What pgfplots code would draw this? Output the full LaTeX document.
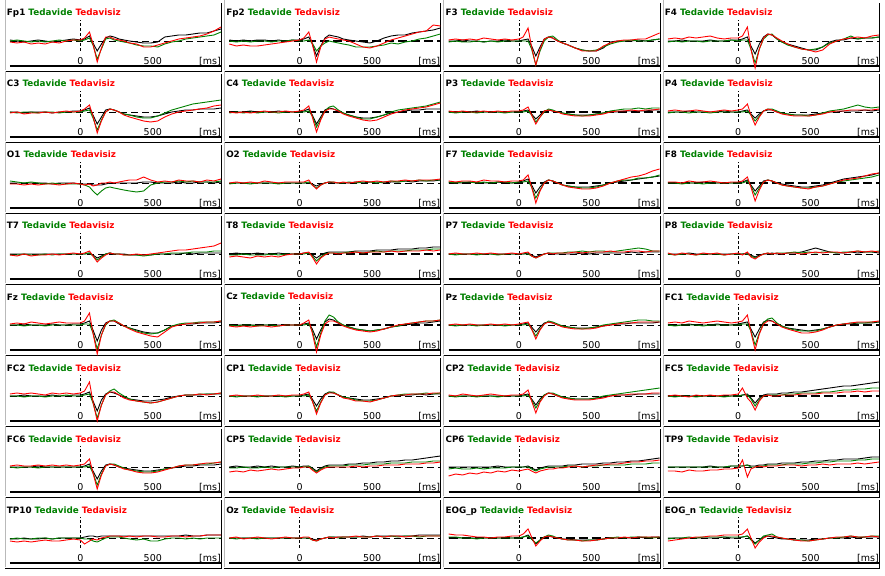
\documentclass[border=0pt]{standalone}
\usepackage{fontspec}
\setmainfont{DejaVu Sans}
\usepackage{pgfplots}
\usepackage{pgfplotstable}
\pgfplotsset{compat=1.18}

\definecolor{tgreen}{RGB}{0,128,0}
\definecolor{tred}{RGB}{255,0,0}

% ---- data: t = time [ms], k = black, g = Tedavide, r = Tedavisiz (px above baseline)
\pgfplotstableread{
t k g r
-500 1 0 -1
-450 0 1 -2
-400 -1 0 -1
-350 0 -1 -3
-300 1 0 -2
-250 0 -1 -3
-200 -1 0 -1
-150 0 1 -2
-100 1 0 0
-50 2 1 1
0 1 0 1
30 2 1 3
65 5 3 9
90 -2 -4 -3
120 -10 -18 -21
150 -3 -8 -7
180 3 2 4
210 5 3 4
240 4 1 2
275 2 0 1
310 1 -1 0
350 0 -2 -2
400 -1 -4 -3
450 -2 -5 -6
500 -2 -5 -6
550 -1 -6 -4
600 4 -3 -2
650 5 -1 0
700 6 0 2
750 6 2 3
800 7 3 4
850 8 4 5
900 8 5 7
950 10 6 10
1000 12 9 14
}\dFpone
\pgfplotstableread{
t k g r
-500 1 0 -3
-450 0 -1 -5
-400 1 0 -4
-350 0 -1 -5
-300 1 0 -5
-250 1 0 -4
-200 0 -1 -3
-150 1 0 -2
-100 0 0 -1
-50 1 1 0
0 1 0 1
30 2 0 3
65 4 1 9
90 -3 -2 -3
120 -15 -10 -21
150 -5 -5 -6
180 3 -2 2
210 6 0 4
240 5 -1 3
275 4 -2 2
310 2 -3 1
350 1 -4 0
400 0 -6 -3
450 -1 -6 -6
500 -2 -6 -7
550 0 -5 -5
600 3 -4 -2
650 5 -2 1
700 6 -3 3
750 6 -1 5
800 8 0 7
850 9 2 9
900 10 3 10
950 11 5 16
1000 13 7 15
}\dFptwo
\pgfplotstableread{
t k g r
-500 0 -1 1
-450 0 0 2
-400 1 -1 1
-350 0 -1 2
-300 0 0 1
-250 -1 -1 3
-200 0 0 2
-150 0 -1 1
-100 1 0 2
-50 0 0 1
0 0 0 2
30 1 0 4
65 2 0 13
90 -5 -8 -6
120 -15 -24 -24
150 -6 -10 -8
180 2 0 2
210 4 4 4
240 3 5 3
275 0 1 0
310 -2 -2 -2
350 -4 -4 -4
400 -7 -7 -7
450 -9 -9 -10
500 -10 -10 -10
550 -10 -9 -10
600 -7 -6 -5
650 -1 -3 -2
700 0 -1 0
750 0 0 1
800 0 1 1
850 1 0 2
900 0 0 2
950 1 1 5
1000 2 2 8
}\dFthree
\pgfplotstableread{
t k g r
-500 0 -1 2
-450 0 0 3
-400 1 -1 2
-350 0 0 4
-300 0 0 3
-250 0 -1 4
-200 1 0 5
-150 0 0 3
-100 0 0 2
-50 1 1 3
0 1 0 3
30 2 1 5
65 4 1 14
90 -5 -8 -8
120 -13 -22 -27
150 -3 -8 -8
180 4 2 3
210 7 6 7
240 6 7 6
275 2 2 3
310 -1 -1 0
350 -3 -4 -3
400 -5 -6 -6
450 -7 -8 -8
500 -9 -9 -9
550 -9 -8 -11
600 -6 -6 -9
650 -1 -2 -3
700 1 0 0
750 1 2 2
800 3 5 3
850 2 2 4
900 3 3 3
950 3 3 5
1000 4 4 6
}\dFfour
\pgfplotstableread{
t k g r
-500 0 0 -1
-450 0 -1 0
-400 -1 0 -2
-350 0 0 -1
-300 0 -1 -1
-250 0 0 0
-200 -1 0 -1
-150 0 -1 0
-100 0 0 1
-50 1 0 0
0 1 0 1
30 2 1 3
65 4 2 7
90 -3 -6 -4
120 -12 -18 -21
150 -5 -8 -9
180 2 0 0
210 3 3 3
240 2 2 2
275 0 0 0
310 -2 -2 -3
350 -3 -3 -5
400 -4 -5 -7
450 -5 -6 -9
500 -5 -6 -10
550 -4 -4 -9
600 -2 -1 -5
650 0 2 -2
700 1 4 0
750 2 6 1
800 2 8 2
850 3 9 3
900 3 10 4
950 3 11 6
1000 4 12 7
}\dCthree
\pgfplotstableread{
t k g r
-500 0 -1 0
-450 0 0 -1
-400 0 -1 0
-350 1 0 -1
-300 0 -1 0
-250 0 0 1
-200 0 0 0
-150 1 -1 0
-100 0 0 1
-50 0 0 0
0 0 0 1
30 1 0 2
65 3 1 6
90 -3 -4 -5
120 -12 -15 -20
150 -5 -7 -8
180 2 1 1
210 4 5 3
240 3 6 3
275 1 2 1
310 -1 -1 -2
350 -3 -3 -4
400 -5 -5 -6
450 -6 -7 -8
500 -6 -7 -9
550 -5 -5 -8
600 -3 -3 -5
650 -1 0 -2
700 0 2 0
750 1 3 2
800 2 4 3
850 2 5 4
900 3 6 5
950 3 8 7
1000 3 10 9
}\dCfour
\pgfplotstableread{
t k g r
-500 0 0 1
-450 0 -1 0
-400 0 0 1
-350 0 0 0
-300 1 -1 0
-250 0 0 1
-200 0 0 0
-150 0 0 1
-100 0 -1 0
-50 0 0 1
0 0 0 1
30 1 0 2
65 2 1 5
90 -2 -3 -3
120 -7 -10 -12
150 -3 -5 -5
180 1 0 1
210 2 3 2
240 1 2 1
275 0 0 0
310 -1 -1 -2
350 -2 -2 -3
400 -3 -3 -4
450 -3 -4 -4
500 -3 -3 -4
550 -2 -2 -3
600 -1 -1 -2
650 0 1 0
700 0 2 1
750 1 3 1
800 1 3 2
850 1 4 1
900 1 3 2
950 2 4 2
1000 2 4 3
}\dPthree
\pgfplotstableread{
t k g r
-500 0 -1 1
-450 0 0 2
-400 0 0 1
-350 1 -1 1
-300 0 0 2
-250 0 0 1
-200 0 -1 0
-150 0 0 1
-100 1 0 2
-50 0 0 1
0 0 0 2
30 1 0 3
65 2 1 8
90 -2 -3 -3
120 -6 -9 -13
150 -2 -4 -5
180 1 1 1
210 2 3 3
240 2 3 2
275 0 1 0
310 -1 -1 -2
350 -2 -2 -3
400 -3 -3 -4
450 -3 -3 -4
500 -3 -4 -4
550 -2 -3 -3
600 -1 -1 -2
650 0 1 0
700 0 2 1
750 1 3 1
800 1 5 2
850 1 7 2
900 2 5 2
950 1 4 2
1000 2 5 3
}\dPfour
\pgfplotstableread{
t k g r
-500 0 2 -1
-450 0 1 -1
-400 0 0 -2
-350 0 1 -1
-300 0 0 -2
-250 0 -1 -1
-200 -1 0 -1
-150 0 -1 -2
-100 0 -1 -1
-50 0 -1 0
0 -1 -1 -1
30 -1 -2 -2
65 -1 -4 -1
90 -2 -8 -3
120 -2 -12 -2
150 -2 -8 0
180 -1 -5 0
210 0 -4 1
240 0 -5 0
275 0 -6 1
310 0 -7 2
350 0 -8 3
400 0 -9 3
450 1 -8 6
500 1 -2 3
550 0 0 1
600 0 1 2
650 0 1 1
700 1 2 3
750 0 1 2
800 0 2 2
850 1 1 1
900 1 1 3
950 0 1 2
1000 1 2 4
}\dOone
\pgfplotstableread{
t k g r
-500 0 -1 0
-450 0 0 1
-400 0 0 0
-350 0 -1 1
-300 0 0 0
-250 0 0 2
-200 0 0 1
-150 0 -1 0
-100 0 0 1
-50 0 0 1
0 0 0 1
30 0 0 1
65 0 1 3
90 -1 -2 -2
120 -3 -5 -6
150 -1 -2 -2
180 0 0 0
210 1 1 1
240 0 1 1
275 0 0 0
310 0 0 1
350 0 1 0
400 1 0 1
450 0 1 2
500 1 1 1
550 1 0 2
600 0 1 1
650 1 2 2
700 1 1 2
750 2 2 3
800 1 2 2
850 2 3 3
900 2 2 3
950 2 3 3
1000 3 3 4
}\dOtwo
\pgfplotstableread{
t k g r
-500 0 1 2
-450 0 0 1
-400 0 1 2
-350 1 1 2
-300 0 0 1
-250 0 1 3
-200 0 0 2
-150 1 1 2
-100 0 1 1
-50 0 0 2
0 1 1 2
30 2 1 3
65 4 2 8
90 -2 -4 -4
120 -10 -15 -20
150 -4 -7 -8
180 1 0 0
210 3 3 3
240 2 2 2
275 0 0 0
310 -2 -2 -2
350 -3 -3 -4
400 -4 -4 -5
450 -4 -5 -6
500 -4 -5 -6
550 -3 -4 -5
600 -2 -2 -3
650 0 0 0
700 1 2 2
750 2 3 4
800 3 3 6
850 4 5 7
900 5 5 9
950 6 6 12
1000 7 8 14
}\dFseven
\pgfplotstableread{
t k g r
-500 0 0 1
-450 0 0 1
-400 0 -1 0
-350 0 0 2
-300 0 0 1
-250 1 -1 1
-200 0 0 2
-150 0 0 1
-100 0 0 0
-50 0 0 1
0 0 0 1
30 1 0 2
65 3 2 6
90 -2 -3 -4
120 -8 -12 -18
150 -3 -5 -7
180 2 1 1
210 3 3 3
240 2 2 2
275 0 0 0
310 -1 -2 -2
350 -2 -3 -3
400 -3 -4 -4
450 -4 -5 -5
500 -4 -5 -6
550 -3 -4 -4
600 -2 -3 -3
650 0 -1 -1
700 2 1 1
750 4 2 3
800 5 3 4
850 6 4 5
900 7 5 7
950 8 6 9
1000 10 8 10
}\dFeight
\pgfplotstableread{
t k g r
-500 0 -1 -1
-450 0 -1 -2
-400 0 0 0
-350 0 -1 -2
-300 0 -1 -1
-250 0 0 -1
-200 0 -1 0
-150 0 0 -1
-100 0 0 0
-50 0 0 1
0 0 0 0
30 0 0 1
65 1 1 3
90 -1 -2 -2
120 -4 -6 -8
150 -2 -3 -4
180 0 0 -1
210 1 1 1
240 0 0 0
275 0 0 0
310 0 -1 -1
350 -1 -1 -1
400 -1 -1 0
450 -1 -2 -1
500 -1 -1 0
550 0 0 1
600 0 0 2
650 0 1 3
700 0 1 4
750 1 1 4
800 0 2 5
850 1 2 6
900 1 2 7
950 1 3 8
1000 1 3 11
}\dTseven
\pgfplotstableread{
t k g r
-500 0 -1 -3
-450 1 -1 -2
-400 0 0 -3
-350 0 -1 -4
-300 1 -1 -2
-250 0 -1 -3
-200 0 0 -2
-150 1 -1 -3
-100 0 0 -1
-50 0 0 0
0 0 0 0
30 1 0 1
65 1 1 2
90 -1 -2 -3
120 -4 -7 -10
150 -1 -3 -4
180 1 0 -1
210 2 1 1
240 2 1 1
275 2 1 0
310 2 1 1
350 2 2 1
400 3 2 2
450 3 1 1
500 3 2 2
550 4 3 2
600 4 2 2
650 4 3 3
700 5 3 2
750 5 3 3
800 5 4 3
850 6 4 3
900 6 4 4
950 7 5 3
1000 7 5 4
}\dTeight
\pgfplotstableread{
t k g r
-500 0 0 0
-450 0 -1 1
-400 0 0 0
-350 0 0 0
-300 0 -1 1
-250 0 0 0
-200 0 0 1
-150 0 -1 0
-100 0 0 0
-50 0 0 1
0 0 0 0
30 0 0 1
65 1 0 2
90 -1 -2 -2
120 -3 -4 -4
150 -1 -2 -2
180 0 0 0
210 1 1 1
240 0 1 0
275 0 1 1
310 0 1 1
350 0 2 1
400 0 2 2
450 1 3 1
500 0 2 2
550 1 3 2
600 1 3 2
650 1 2 3
700 1 3 2
750 1 4 2
800 2 5 3
850 1 6 3
900 2 5 2
950 2 3 3
1000 2 3 3
}\dPseven
\pgfplotstableread{
t k g r
-500 0 0 1
-450 0 -1 -1
-400 0 0 1
-350 1 0 0
-300 0 -1 -1
-250 0 0 1
-200 0 0 0
-150 0 0 1
-100 0 -1 -1
-50 0 0 0
0 0 0 1
30 0 0 -1
65 1 0 2
90 -1 -2 -3
120 -3 -4 -5
150 -1 -2 -2
180 0 0 0
210 0 1 1
240 1 0 0
275 0 1 1
310 0 1 0
350 1 1 1
400 1 2 1
450 2 1 0
500 4 2 1
550 6 1 2
600 4 2 1
650 2 2 2
700 1 1 2
750 1 2 1
800 2 2 2
850 1 3 3
900 2 2 2
950 2 2 3
1000 1 3 2
}\dPeight
\pgfplotstableread{
t k g r
-500 0 0 1
-450 0 0 2
-400 1 -1 1
-350 0 0 3
-300 0 0 2
-250 0 -1 1
-200 1 0 2
-150 0 0 3
-100 0 0 2
-50 1 0 2
0 1 0 2
30 2 1 4
65 4 1 12
90 -5 -8 -8
120 -16 -24 -29
150 -5 -10 -10
180 2 0 1
210 4 4 4
240 4 5 4
275 1 2 2
310 -1 -1 -1
350 -3 -3 -4
400 -5 -6 -7
450 -7 -8 -9
500 -8 -9 -11
550 -8 -8 -12
600 -5 -5 -7
650 -1 -1 -2
700 0 1 0
750 1 2 1
800 1 2 2
850 2 3 2
900 2 3 3
950 2 3 3
1000 3 4 4
}\dFz
\pgfplotstableread{
t k g r
-500 0 0 -1
-450 0 -1 -2
-400 0 0 -1
-350 0 0 -2
-300 0 -1 -1
-250 0 0 -1
-200 0 0 -2
-150 0 -1 -1
-100 0 0 0
-50 0 0 0
0 0 0 0
30 1 0 2
65 2 1 5
90 -4 -6 -8
120 -14 -22 -27
150 -5 -8 -10
180 3 4 1
210 6 10 4
240 5 8 4
275 2 3 2
310 0 0 -1
350 -2 -2 -3
400 -4 -4 -5
450 -5 -5 -6
500 -6 -6 -7
550 -5 -5 -6
600 -4 -4 -4
650 -2 -2 -2
700 -1 -1 0
750 0 1 1
800 1 2 2
850 2 3 3
900 2 4 4
950 3 4 4
1000 4 5 5
}\dCz
\pgfplotstableread{
t k g r
-500 0 0 0
-450 0 -1 1
-400 0 0 0
-350 0 0 1
-300 0 -1 0
-250 0 0 0
-200 0 0 1
-150 0 0 0
-100 0 -1 1
-50 0 0 0
0 0 0 1
30 1 0 2
65 2 1 3
90 -2 -4 -4
120 -7 -11 -14
150 -2 -4 -5
180 2 1 1
210 3 4 3
240 2 3 2
275 0 1 0
310 -1 -1 -2
350 -2 -2 -3
400 -3 -3 -4
450 -3 -4 -4
500 -3 -3 -4
550 -2 -2 -3
600 -1 0 -1
650 0 1 0
700 1 2 1
750 1 3 2
800 2 4 2
850 2 5 3
900 2 5 3
950 2 4 3
1000 3 4 3
}\dPz
\pgfplotstableread{
t k g r
-500 0 0 2
-450 0 -1 3
-400 0 0 2
-350 1 0 4
-300 0 0 3
-250 0 -1 2
-200 0 0 3
-150 1 0 4
-100 0 0 3
-50 0 0 2
0 1 0 3
30 2 1 4
65 3 1 10
90 -4 -6 -7
120 -12 -20 -25
150 -4 -8 -9
180 3 2 1
210 5 6 4
240 4 7 4
275 1 2 1
310 -1 -1 -2
350 -3 -3 -4
400 -4 -5 -6
450 -5 -6 -8
500 -6 -6 -8
550 -5 -6 -7
600 -4 -4 -5
650 -2 -2 -2
700 0 0 0
750 1 1 1
800 1 2 2
850 2 2 3
900 2 2 3
950 2 3 3
1000 3 3 4
}\dFCone
\pgfplotstableread{
t k g r
-500 0 0 2
-450 0 0 3
-400 1 -1 2
-350 0 0 3
-300 0 0 2
-250 0 -1 1
-200 1 0 3
-150 0 0 2
-100 0 1 3
-50 1 0 2
0 1 0 3
30 2 1 5
65 4 2 14
90 -5 -7 -6
120 -15 -22 -25
150 -4 -9 -9
180 2 1 1
210 4 5 4
240 3 7 4
275 1 3 1
310 -1 0 -2
350 -3 -3 -4
400 -4 -5 -5
450 -5 -6 -6
500 -5 -7 -7
550 -4 -6 -6
600 -3 -4 -4
650 -1 -2 -2
700 0 0 0
750 1 1 1
800 1 1 1
850 1 2 2
900 2 2 1
950 2 2 2
1000 2 3 3
}\dFCtwo
\pgfplotstableread{
t k g r
-500 0 0 0
-450 0 -1 1
-400 0 0 0
-350 0 0 0
-300 0 -1 1
-250 0 0 0
-200 0 0 0
-150 0 0 1
-100 0 -1 0
-50 0 0 1
0 0 0 1
30 1 0 2
65 2 1 4
90 -3 -5 -5
120 -10 -15 -18
150 -3 -6 -7
180 2 1 1
210 4 4 3
240 3 4 3
275 1 1 1
310 -1 -1 -2
350 -2 -2 -3
400 -3 -4 -5
450 -4 -5 -5
500 -4 -5 -6
550 -3 -4 -4
600 -2 -2 -2
650 0 0 0
700 0 1 1
750 1 2 1
800 1 2 2
850 2 2 2
900 1 3 2
950 2 2 3
1000 2 3 3
}\dCPone
\pgfplotstableread{
t k g r
-500 0 0 1
-450 0 -1 0
-400 0 0 2
-350 0 0 1
-300 0 -1 0
-250 0 0 1
-200 0 0 2
-150 0 -1 1
-100 0 0 0
-50 0 0 1
0 0 0 1
30 1 0 2
65 2 1 6
90 -3 -4 -5
120 -9 -12 -17
150 -3 -5 -6
180 1 1 0
210 3 3 3
240 2 3 2
275 0 1 0
310 -1 -1 -2
350 -2 -2 -3
400 -3 -3 -4
450 -3 -3 -4
500 -3 -3 -4
550 -2 -2 -3
600 -1 0 -2
650 0 1 0
700 1 2 1
750 1 3 1
800 1 4 2
850 2 5 2
900 2 6 2
950 2 7 3
1000 2 8 3
}\dCPtwo
\pgfplotstableread{
t k g r
-500 0 0 0
-450 0 -1 1
-400 0 0 0
-350 0 0 -1
-300 0 -1 1
-250 0 0 0
-200 0 0 1
-150 0 0 0
-100 0 -1 1
-50 0 0 1
0 0 0 2
30 1 1 8
65 2 1 -2
90 -2 -3 -6
120 -7 -10 -14
150 -2 -4 -5
180 1 0 0
210 2 1 1
240 2 1 0
275 2 1 0
310 3 1 1
350 3 2 1
400 4 2 1
450 4 3 2
500 5 3 2
550 6 3 2
600 7 4 3
650 8 4 3
700 9 5 3
750 10 6 4
800 10 6 4
850 11 7 5
900 12 7 4
950 13 8 5
1000 14 8 5
}\dFCfive
\pgfplotstableread{
t k g r
-500 0 0 1
-450 0 -1 2
-400 0 0 1
-350 0 0 1
-300 1 -1 2
-250 0 0 1
-200 0 0 2
-150 0 0 1
-100 0 0 2
-50 0 0 1
0 0 0 2
30 1 0 3
65 3 1 8
90 -4 -6 -6
120 -12 -18 -22
150 -4 -7 -8
180 2 1 1
210 3 3 3
240 2 3 2
275 0 1 0
310 -1 -1 -2
350 -2 -3 -3
400 -3 -4 -5
450 -4 -5 -6
500 -4 -5 -6
550 -3 -4 -5
600 -2 -2 -3
650 -1 -1 -1
700 0 1 1
750 1 2 2
800 1 2 2
850 2 3 3
900 2 3 4
950 2 4 4
1000 3 5 5
}\dFCsix
\pgfplotstableread{
t k g r
-500 0 -1 -5
-450 1 -1 -4
-400 0 0 -5
-350 0 -1 -3
-300 1 -1 -4
-250 0 0 -3
-200 1 -1 -2
-150 0 0 -3
-100 0 0 -2
-50 1 0 -1
0 0 0 -1
30 1 0 0
65 1 1 0
90 -1 -2 -3
120 -4 -5 -6
150 -1 -2 -3
180 1 0 -1
210 2 1 0
240 2 1 0
275 2 1 0
310 2 1 0
350 3 2 0
400 3 2 1
450 4 2 0
500 4 3 1
550 5 3 1
600 5 3 2
650 6 4 2
700 6 4 2
750 7 4 3
800 7 5 3
850 8 5 3
900 9 5 4
950 10 6 4
1000 11 6 5
}\dCPfive
\pgfplotstableread{
t k g r
-500 0 -2 -9
-450 0 -1 -7
-400 0 -2 -8
-350 0 -2 -6
-300 0 -1 -7
-250 0 -2 -5
-200 0 -1 -6
-150 1 -1 -4
-100 0 -1 -5
-50 0 0 -3
0 0 0 -4
30 0 0 -3
65 1 0 -2
90 -1 -2 -4
120 -3 -4 -6
150 -1 -2 -4
180 0 -1 -3
210 1 0 -2
240 1 0 -2
275 1 0 -1
310 1 0 -1
350 2 1 0
400 2 1 1
450 3 0 0
500 3 1 1
550 3 1 2
600 4 2 2
650 4 2 3
700 5 2 3
750 5 2 4
800 6 3 5
850 6 3 5
900 7 3 6
950 8 4 6
1000 9 4 7
}\dCPsix
\pgfplotstableread{
t k g r
-500 0 0 -4
-450 0 0 -4
-400 0 0 -5
-350 0 0 -3
-300 0 0 -4
-250 0 0 -4
-200 1 0 -3
-150 0 0 -3
-100 0 0 -2
-50 1 1 -2
0 1 1 -1
30 1 1 7
65 2 2 -10
90 1 0 -2
120 1 0 0
150 2 1 1
180 2 1 0
210 3 2 1
240 3 2 1
275 3 2 1
310 4 2 2
350 4 3 2
400 4 3 2
450 5 3 1
500 5 4 2
550 6 4 2
600 6 5 3
650 7 5 2
700 7 6 3
750 8 6 3
800 8 6 3
850 8 7 4
900 9 7 3
950 10 8 4
1000 10 8 5
}\dTPnine
\pgfplotstableread{
t k g r
-500 -1 -1 -3
-450 -1 0 -4
-400 0 -1 -3
-350 -1 -1 -4
-300 -1 0 -3
-250 0 0 -2
-200 -1 -1 -3
-150 0 0 -3
-100 0 0 -2
-50 0 0 -1
0 0 0 -2
30 1 -1 -6
65 2 -1 -3
90 2 -3 -1
120 1 -4 -2
150 2 -2 0
180 2 0 1
210 2 1 2
240 2 1 2
275 2 1 2
310 2 0 1
350 2 -1 2
400 2 -2 1
450 2 -1 2
500 2 -3 2
550 2 -3 1
600 2 -1 1
650 2 0 2
700 2 0 2
750 3 -1 1
800 2 0 2
850 2 -1 2
900 3 0 3
950 3 0 3
1000 3 0 3
}\dTPten
\pgfplotstableread{
t k g r
-500 0 0 0
-450 0 -1 1
-400 0 0 -1
-350 0 0 0
-300 0 -1 1
-250 0 0 0
-200 0 0 -1
-150 0 0 0
-100 0 0 1
-50 0 0 0
0 0 0 0
30 0 0 1
65 0 0 1
90 -1 -2 -2
120 -2 -3 -3
150 -1 -1 -1
180 0 0 0
210 1 1 1
240 1 1 0
275 1 0 1
310 1 1 1
350 1 1 1
400 1 1 2
450 2 1 1
500 1 1 1
550 2 2 2
600 2 1 1
650 2 2 2
700 2 1 2
750 2 2 1
800 2 2 2
850 3 1 2
900 3 2 2
950 3 2 2
1000 3 2 2
}\dOz
\pgfplotstableread{
t k g r
-500 0 1 4
-450 0 1 3
-400 0 0 3
-350 0 0 2
-300 0 -1 1
-250 0 0 1
-200 0 0 0
-150 0 0 1
-100 0 0 1
-50 0 0 2
0 0 0 2
30 1 1 4
65 3 2 9
90 -1 -1 1
120 -6 -5 -8
150 -2 -2 -3
180 1 1 1
210 2 3 2
240 1 2 1
275 0 0 0
310 -1 -1 -1
350 -1 -2 -2
400 -2 -2 -2
450 -2 -3 -3
500 -2 -2 -3
550 -2 -2 -2
600 -1 -1 -1
650 0 0 0
700 0 1 0
750 0 0 1
800 0 1 0
850 1 1 1
900 0 1 1
950 1 0 1
1000 1 1 1
}\dEOGp
\pgfplotstableread{
t k g r
-500 0 -1 -3
-450 0 0 -2
-400 0 0 -1
-350 0 1 0
-300 0 0 1
-250 0 1 1
-200 0 1 2
-150 0 1 2
-100 1 1 3
-50 0 1 3
0 0 1 3
30 1 1 4
65 2 2 9
90 -1 -2 0
120 -5 -6 -10
150 -2 -2 -4
180 1 2 0
210 2 3 2
240 1 4 2
275 0 1 1
310 -1 0 0
350 -1 -1 -1
400 -2 -2 -2
450 -2 -2 -3
500 -2 -3 -3
550 -1 -2 -2
600 -1 -1 -1
650 0 0 0
700 0 0 1
750 0 1 1
800 1 2 2
850 0 1 1
900 1 1 1
950 1 2 2
1000 1 2 1
}\dEOGn

\pgfplotsset{
  eeg/.style={hide axis, scale only axis, width=211pt, height=55pt,
    xmin=-500, xmax=1000, ymin=-25, ymax=30, clip=false, anchor=south west},
}
\tikzset{
  thinbase/.style={black, line width=0.8pt, dash pattern=on 7pt off 4pt},
  thickbase/.style={black, line width=2pt, dash pattern=on 9pt off 4pt},
  ttl/.style={anchor=base west, inner sep=0pt, font=\fontsize{8.8}{10}\selectfont\bfseries},
  tck/.style={inner sep=0pt, font=\fontsize{9.5}{11}\selectfont},
  trace/.style={line width=0.9pt, mark=none},
}

% #1 x, #2 y of the axis corner, #3 channel, #4 table, #5 baseline style
\newcommand{\eegpanel}[5]{%
\begin{axis}[eeg, at={(#1pt,#2pt)}]
  \draw[gray!55, line width=0.8pt] (axis cs:-535,-29) -- (axis cs:-535,41);
  \draw[black, line width=0.8pt] (axis cs:-535,-30.5) -- (axis cs:1003,-30.5) -- (axis cs:1003,38);
  \draw[black, line width=1.2pt] (axis cs:-500,-25) -- (axis cs:1000,-25);
  \draw[#5] (axis cs:-500,0) -- (axis cs:1000,0);
  \draw[black, line width=0.7pt, dash pattern=on 3pt off 2pt] (axis cs:0,-10) -- (axis cs:0,21);
  \addplot[trace, black] table[x=t, y=k] {#4};
  \addplot[trace, tgreen] table[x=t, y=g] {#4};
  \addplot[trace, tred] table[x=t, y=r] {#4};
  \node[ttl] at (axis cs:-523,25) {#3 \textcolor{tgreen}{Tedavide} \textcolor{tred}{Tedavisiz}};
  \node[tck, anchor=base] at (axis cs:0,-23.8) {0};
  \node[tck, anchor=base] at (axis cs:515,-23.8) {500};
  \node[tck, anchor=base east] at (axis cs:1000,-23.8) {[ms]};
\end{axis}}

\begin{document}
\begin{tikzpicture}
\useasboundingbox (0pt,0pt) rectangle (885pt,-575pt);
% row 1
\eegpanel{10}{-66}{Fp1}{\dFpone}{thinbase}
\eegpanel{229.3}{-66}{Fp2}{\dFptwo}{thickbase}
\eegpanel{448.6}{-66}{F3}{\dFthree}{thinbase}
\eegpanel{667.9}{-66}{F4}{\dFfour}{thinbase}
% row 2
\eegpanel{10}{-137}{C3}{\dCthree}{thinbase}
\eegpanel{229.3}{-137}{C4}{\dCfour}{thickbase}
\eegpanel{448.6}{-137}{P3}{\dPthree}{thickbase}
\eegpanel{667.9}{-137}{P4}{\dPfour}{thinbase}
% row 3
\eegpanel{10}{-208}{O1}{\dOone}{thinbase}
\eegpanel{229.3}{-208}{O2}{\dOtwo}{thinbase}
\eegpanel{448.6}{-208}{F7}{\dFseven}{thickbase}
\eegpanel{667.9}{-208}{F8}{\dFeight}{thickbase}
% row 4
\eegpanel{10}{-279}{T7}{\dTseven}{thinbase}
\eegpanel{229.3}{-279}{T8}{\dTeight}{thickbase}
\eegpanel{448.6}{-279}{P7}{\dPseven}{thinbase}
\eegpanel{667.9}{-279}{P8}{\dPeight}{thinbase}
% row 5
\eegpanel{10}{-350}{Fz}{\dFz}{thinbase}
\eegpanel{229.3}{-350}{Cz}{\dCz}{thickbase}
\eegpanel{448.6}{-350}{Pz}{\dPz}{thinbase}
\eegpanel{667.9}{-350}{FC1}{\dFCone}{thickbase}
% row 6
\eegpanel{10}{-421}{FC2}{\dFCtwo}{thinbase}
\eegpanel{229.3}{-421}{CP1}{\dCPone}{thinbase}
\eegpanel{448.6}{-421}{CP2}{\dCPtwo}{thinbase}
\eegpanel{667.9}{-421}{FC5}{\dFCfive}{thickbase}
% row 7
\eegpanel{10}{-492}{FC6}{\dFCsix}{thinbase}
\eegpanel{229.3}{-492}{CP5}{\dCPfive}{thinbase}
\eegpanel{448.6}{-492}{CP6}{\dCPsix}{thinbase}
\eegpanel{667.9}{-492}{TP9}{\dTPnine}{thinbase}
% row 8
\eegpanel{10}{-563}{TP10}{\dTPten}{thinbase}
\eegpanel{229.3}{-563}{Oz}{\dOz}{thinbase}
\eegpanel{448.6}{-563}{EOG\_p}{\dEOGp}{thickbase}
\eegpanel{667.9}{-563}{EOG\_n}{\dEOGn}{thinbase}
\end{tikzpicture}
\end{document}
